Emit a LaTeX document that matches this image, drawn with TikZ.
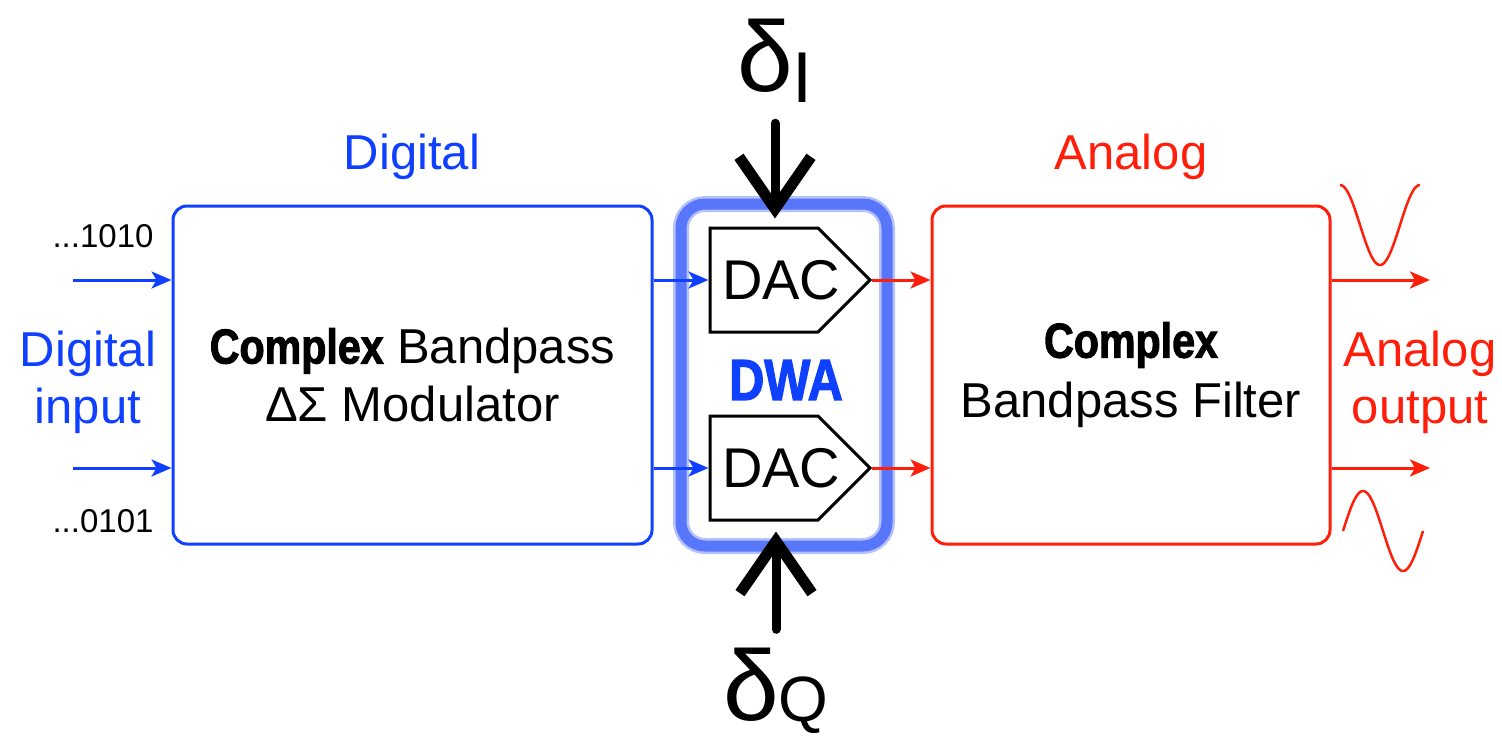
\documentclass[tikz,border=0pt]{standalone}
\usepackage{fontspec}
\setmainfont{Liberation Sans}
\newfontfamily\heavyfont[FakeStretch=0.84,BoldFeatures={FakeBold=2}]{Liberation Sans}
\usepackage{xcolor}
\usepackage{tikz}
\usetikzlibrary{arrows.meta,positioning,shapes.symbols}

\definecolor{digblue}{RGB}{16,64,255}
\definecolor{anared}{RGB}{255,30,10}
\definecolor{dwablue}{RGB}{88,118,250}

\newcommand{\heavy}[1]{{\heavyfont\bfseries #1}}
\newcommand{\fs}[2]{\fontsize{#1}{#2}\selectfont}

\begin{document}
\begin{tikzpicture}[
    x=1pt, y=-1pt,
    box/.style={rectangle, draw, rounded corners=14pt, line width=3pt, minimum height=338pt, align=center, font=\fs{49}{58}},
    dac/.style={signal, signal to=east, signal pointer angle=90, draw, line width=3pt, minimum height=104pt, inner sep=0pt, font=\fs{56}{60}},
    dwabox/.style={rectangle, draw=dwablue, line width=11pt, rounded corners=24pt, minimum width=206pt, minimum height=342pt,
        preaction={draw=dwablue!45, line width=16pt}},
    label/.style={align=center, font=\fs{49}{57}},
    bits/.style={anchor=east, font=\fs{33}{36}},
    delta/.style={anchor=base, inner sep=0pt, font=\fs{100}{100}},
    arrow/.style={-{Stealth[length=20pt, width=17pt, inset=5pt]}, line width=3pt},
    fat/.style={line width=9pt, line cap=round, -{Straight Barb[length=52pt, width=72pt, line width=11pt]}}
]
\useasboundingbox (0,0) rectangle (1502,741);

% blocks
\node[box, draw=digblue, minimum width=479pt] (mod) at (412.5,375) {\heavy{Complex} Bandpass\\ΔΣ Modulator};
\node[box, draw=anared, minimum width=398pt] (filt) at (1131,375) {\heavy{Complex}\\[2pt]Bandpass Filter};
\node[dwabox] (dwa) at (784,375) {};
\node[dac] (dac1) at (764,280) {\makebox[108pt][l]{\hspace{12pt}DAC}};
\node[dac] (dac2) at (764,468) {\makebox[108pt][l]{\hspace{12pt}DAC}};
\node[text=digblue, font=\fs{58}{58}] (dwalab) at (786,380) {\heavy{DWA}};

% labels
\node[label, text=digblue] (dlab) at (412,157) {Digital};
\node[label, text=anared] (alab) at (1131,157) {Analog};
\node[label, text=digblue] (din) at (88,382) {Digital\\input};
\node[label, text=anared] (aout) at (1420,382) {Analog\\output};
\node[bits] (b1) at (157,236) {...1010};
\node[bits] (b2) at (157,521) {...0101};
\node[delta] (dI) at (775,92) {δ\raisebox{-11pt}{\fs{72}{72}I}};
\node[delta] (dQ) at (776,720) {δ\raisebox{-1pt}{\fs{64}{64}Q}};

% inputs and outputs
\coordinate (in1) at (73,280);
\coordinate (in2) at (73,468);
\coordinate (out1) at (1430,280);
\coordinate (out2) at (1430,468);

\draw[arrow, digblue] (in1) -- (mod.west |- in1);
\draw[arrow, digblue] (in2) -- (mod.west |- in2);
\draw[arrow, digblue] (mod.east |- dac1) -- (dac1.west);
\draw[arrow, digblue] (mod.east |- dac2) -- (dac2.west);
\draw[arrow, anared] (dac1.east) -- (filt.west |- dac1);
\draw[arrow, anared] (dac2.east) -- (filt.west |- dac2);
\draw[arrow, anared] (filt.east |- dac1) -- (out1);
\draw[arrow, anared] (filt.east |- dac2) -- (out2);

% mismatch inputs
\draw[fat] ([yshift=-20pt]dI.south) -- ([yshift=-20pt]dI.south |- dwa.north);
\draw[fat] ([yshift=18pt]dQ.north) -- ([yshift=20pt]dQ.north |- dwa.south);

% waveforms
\draw[anared, line width=2.5pt] plot[domain=0:80, samples=80, smooth] ({1340+\x},{225-40*cos(4.5*\x)});
\draw[anared, line width=2.5pt] plot[domain=0:80, samples=80, smooth] ({1343+\x},{531-40*sin(4.5*\x)});
\end{tikzpicture}
\end{document}
